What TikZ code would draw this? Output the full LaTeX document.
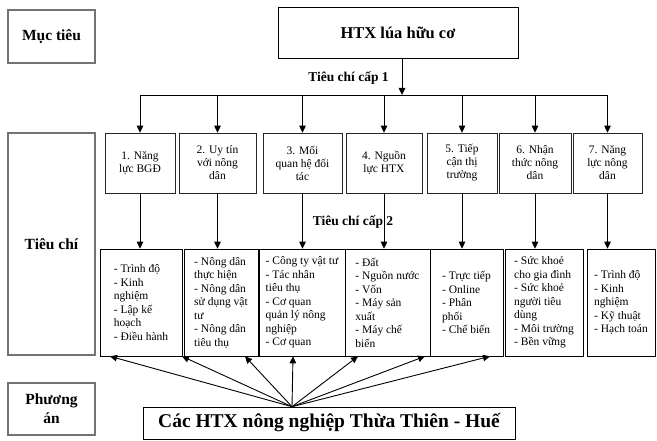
\documentclass[tikz,border=0pt]{standalone}
\usepackage{fontspec}
\setmainfont{Liberation Serif}
\usepackage{tikz}
\usetikzlibrary{arrows.meta}

\begin{document}
\begin{tikzpicture}[x=1pt, y=-1pt]
    % Styles
    \tikzstyle{side} = [rectangle, draw=black!55, line width=1.5pt, minimum width=87pt, align=center, font=\fontsize{15.5}{19}\selectfont\bfseries]
    \tikzstyle{crit} = [rectangle, draw=black!85, semithick, minimum height=60pt, align=center, inner sep=2pt, font=\fontsize{11.5}{13}\selectfont]
    \tikzstyle{detail} = [rectangle, draw=black, semithick, minimum height=107pt, align=left, inner sep=2pt, font=\fontsize{11.5}{13.5}\selectfont]
    \tikzstyle{arrow} = [-{Triangle[length=7pt,width=6.5pt]}, line width=0.9pt]
    \tikzstyle{tag} = [font=\fontsize{13.5}{16}\selectfont\bfseries]

    \useasboundingbox (0,0) rectangle (657,441);

    % Left column
    \node[side, minimum height=53pt] (muctieu) at (51.5,36.5) {Mục tiêu};
    \node[side, minimum height=222pt] (tieuchi) at (51.5,244) {Tiêu chí};
    \node[side, minimum height=52pt] (phuongan) at (51.5,409) {Phương\\án};

    % Goal
    \node[rectangle, draw=black, semithick, minimum width=240pt, minimum height=51pt, font=\fontsize{16.5}{20}\selectfont\bfseries] (goal) at (398,32.5) {HTX lúa hữu cơ};
    \node[tag] (cap1) at (348.5,78) {Tiêu chí cấp 1};

    % Level 1 criteria
    \node[crit, minimum width=70pt] (c1) at (140,163) {1. Năng\\lực BGĐ};
    \node[crit, minimum width=77pt] (c2) at (217.5,163) {2. Uy tín\\với nông\\dân};
    \node[crit, minimum width=79pt] (c3) at (302.5,163) {3. Mối\\quan hệ đối\\tác};
    \node[crit, minimum width=76pt] (c4) at (384,163) {4. Nguồn\\lực HTX};
    \node[crit, minimum width=70pt] (c5) at (462,163) {5. Tiếp\\cận thị\\trường};
    \node[crit, minimum width=72pt] (c6) at (535,163) {6. Nhận\\thức nông\\dân};
    \node[crit, minimum width=69pt] (c7) at (607.5,163) {7. Năng\\lực nông\\dân};

    \node[tag] (cap2) at (353,222) {Tiêu chí cấp 2};

    % Level 2 criteria
    \node[detail, minimum width=82pt] (d1) at (141,302.5) {- Trình độ\\- Kinh\\nghiệm\\- Lập kế\\hoạch\\- Điều hành};
    \node[detail, minimum width=74pt] (d2) at (221,302.5) {- Nông dân\\thực hiện\\- Nông dân\\sử dụng vật\\tư\\- Nông dân\\tiêu thụ};
    \node[detail, minimum width=86pt] (d3) at (302,302.5) {- Công ty vật tư\\- Tác nhân\\tiêu thụ\\- Cơ quan\\quản lý nông\\nghiệp\\- Cơ quan};
    \node[detail, minimum width=85pt] (d4) at (387.5,302.5) {- Đất\\- Nguồn nước\\- Vốn\\- Máy sản\\xuất\\- Máy chế\\biến};
    \node[detail, minimum width=73pt] (d5) at (466.5,302.5) {- Trực tiếp\\- Online\\- Phân\\phối\\- Chế biến};
    \node[detail, minimum width=78pt] (d6) at (544,302.5) {- Sức khoẻ\\cho gia đình\\- Sức khoẻ\\người tiêu\\dùng\\- Môi trường\\- Bền vững};
    \node[detail, minimum width=68pt] (d7) at (621,302.5) {- Trình độ\\- Kinh\\nghiệm\\- Kỹ thuật\\- Hạch toán};

    % Base
    \node[rectangle, draw=black, semithick, minimum width=372pt, minimum height=32pt, font=\fontsize{19.5}{23}\selectfont\bfseries] (base) at (329,423) {Các HTX nông nghiệp Thừa Thiên - Huế};

    % Arrows
    \coordinate (bus) at (0,95);
    \draw[line width=0.9pt] (c1.north |- bus) -- (c7.north |- bus);
    \draw[arrow] ([xshift=4pt]goal.south) -- ([xshift=4pt]goal.south |- bus);
    \foreach \i in {1,...,7}
        \draw[arrow] (c\i.north |- bus) -- (c\i.north);
    \foreach \i in {1,...,7}
        \draw[arrow] (c\i) -- (c\i.south |- d\i.north);

    \coordinate (hub) at ([xshift=-37pt]base.north);
    \foreach \x [count=\i] in {110,182,245,293,358,425,490}
        \coordinate (tip\i) at (d1.south -| \x,0);
    \foreach \i in {1,...,7}
        \draw[arrow] (hub) -- (tip\i);
\end{tikzpicture}
\end{document}
